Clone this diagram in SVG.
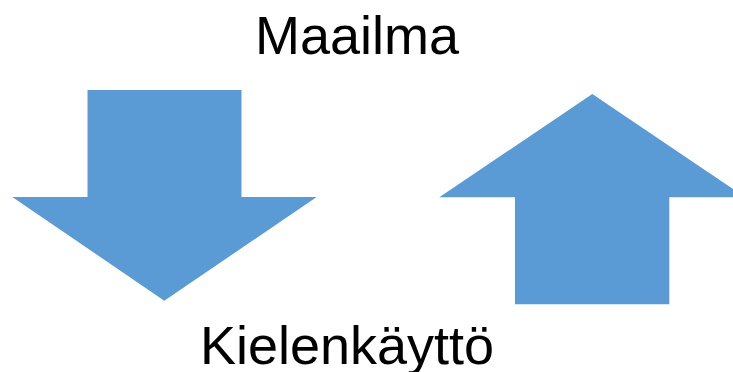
<svg xmlns="http://www.w3.org/2000/svg" width="733" height="372" viewBox="0 0 733 372">
<style>
.arrow{fill:#5B9BD5;stroke:none}
.lbl{font-family:"Liberation Sans",Arial,sans-serif;font-size:54px;fill:#000;text-anchor:middle}
</style>
<rect width="733" height="372" fill="#fff"/>
<g id="maailma"><text class="lbl" x="357" y="54">Maailma</text></g>
<g id="kielenkaytto"><text class="lbl" x="347" y="364">Kielenkäyttö</text></g>
<g id="connectors">
<polygon id="down-arrow" class="arrow" points="87.5,90 241.5,90 241.5,197 316.7,197 164.3,300.7 12.3,197 87.5,197"/>
<polygon id="up-arrow" class="arrow" points="592.3,94 745.3,197.3 669.3,197.3 669.3,304.3 515,304.3 515,197.3 439.3,197.3"/>
</g>
</svg>
